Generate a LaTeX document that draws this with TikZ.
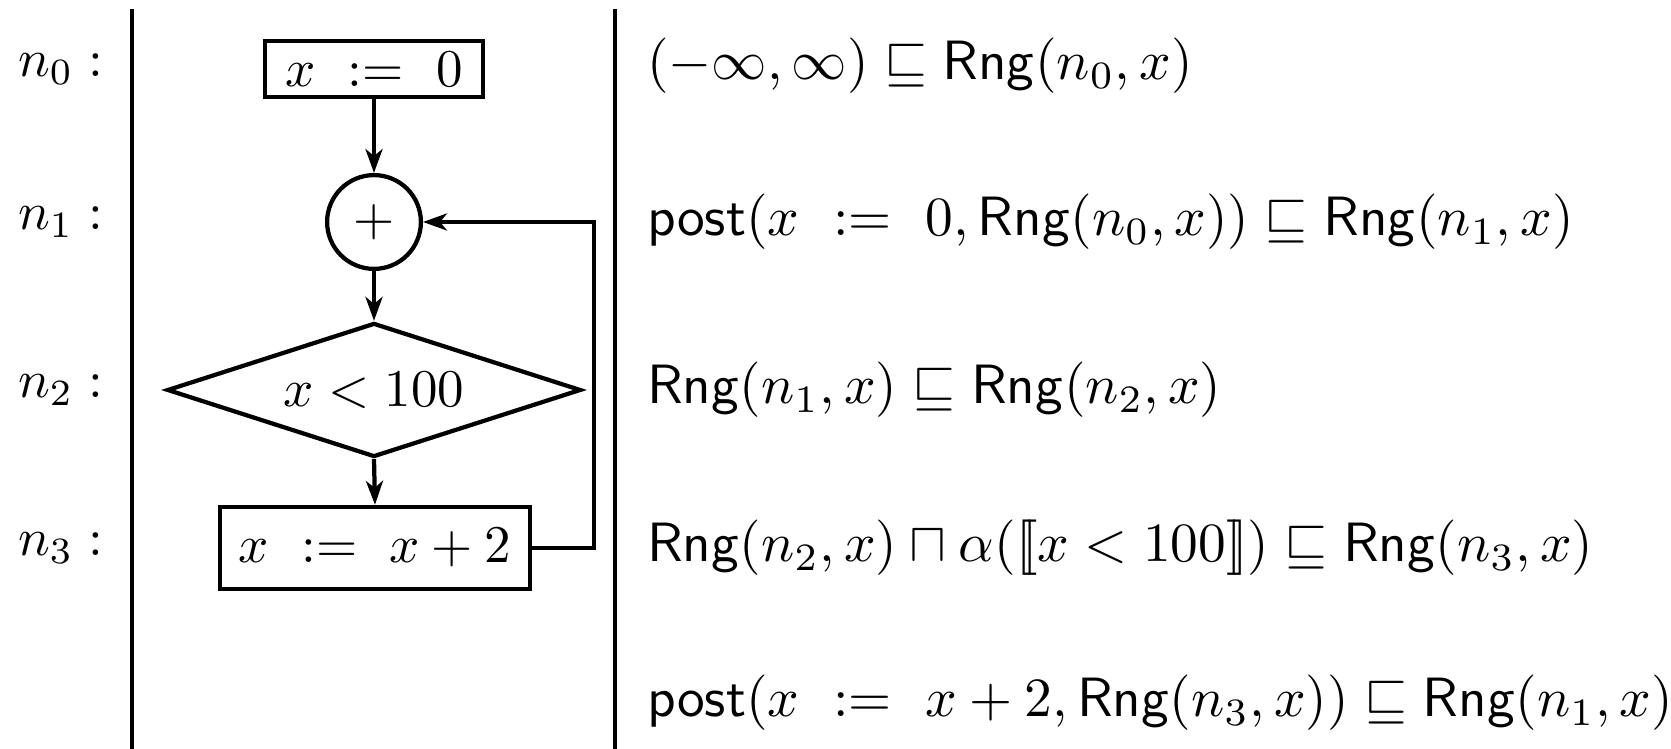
\documentclass[tikz,border=0pt]{standalone}
\usepackage{amssymb}
\usepackage{graphicx}
\usetikzlibrary{shapes.geometric,arrows.meta}
\newcommand{\lsem}{\mathopen{[\mkern-3mu[}}
\newcommand{\rsem}{\mathclose{]\mkern-3mu]}}
\newcommand{\eqtext}[1]{\scalebox{1.045}{$#1$}}
\begin{document}
\begin{tikzpicture}[x=0.1887pt,y=-0.1887pt,line width=0.8pt,
  >={Stealth[length=4.5pt,width=3.2pt,inset=1.3pt]},
  every node/.style={font=\fontsize{10}{12}\selectfont},
  stmt/.style={draw,rectangle,inner sep=0pt},
  joinpt/.style={draw,circle,inner sep=0pt,minimum size=17.7pt},
  test/.style={draw,diamond,aspect=3,inner sep=0pt,minimum width=78.1pt,minimum height=25.3pt},
  lab/.style={anchor=west,inner sep=0pt},
  eqn/.style={anchor=west,inner sep=0pt},
  divider/.style={line width=0.7pt}]
\useasboundingbox (0,0) rectangle (1671,749);
% dividers
\coordinate (d1t) at (132,9); \coordinate (d1b) at (132,749);
\coordinate (d2t) at (615,9); \coordinate (d2b) at (615,749);
\draw[divider] (d1t) -- (d1b);
\draw[divider] (d2t) -- (d2b);
% labels
\node[lab] (l0) at (16,69) {$n_0:$};
\node[lab] (l1) at (16,222) {$n_1:$};
\node[lab] (l2) at (16,390) {$n_2:$};
\node[lab] (l3) at (16,548) {$n_3:$};
% flow graph
\node[stmt,minimum width=41.1pt,minimum height=10.7pt] (b0) at (374,69) {$x\ :=\ 0$};
\node[joinpt] (c1) at (374,222) {$+$};
\node[test] (d2) at (374,390) {$x<100$};
\node[stmt,minimum width=58.5pt,minimum height=15.5pt] (b3) at (375,548) {$x\ :=\ x+2$};
\coordinate (fb) at (594,222);
\draw[->] (b0.south) -- (c1.north);
\draw[->] (c1.south) -- (d2.north);
\draw[->] (d2.south) -- (b3.north);
\draw[->] (b3.east) -- (b3.east -| fb) -- (fb) -- (c1.east);
% equations
\node[eqn] (e0) at (645,66) {\eqtext{(-\infty,\infty)\sqsubseteq\mathsf{Rng}(n_0,x)}};
\node[eqn] (e1) at (645,222) {\eqtext{\mathsf{post}(x\ :=\ 0,\mathsf{Rng}(n_0,x))\sqsubseteq\mathsf{Rng}(n_1,x)}};
\node[eqn] (e2) at (645,390) {\eqtext{\mathsf{Rng}(n_1,x)\sqsubseteq\mathsf{Rng}(n_2,x)}};
\node[eqn] (e3) at (645,548) {\eqtext{\mathsf{Rng}(n_2,x)\sqcap\alpha(\lsem x<100\rsem)\sqsubseteq\mathsf{Rng}(n_3,x)}};
\node[eqn] (e4) at (645,703) {\eqtext{\mathsf{post}(x\ :=\ x+2,\mathsf{Rng}(n_3,x))\sqsubseteq\mathsf{Rng}(n_1,x)}};
\end{tikzpicture}
\end{document}
